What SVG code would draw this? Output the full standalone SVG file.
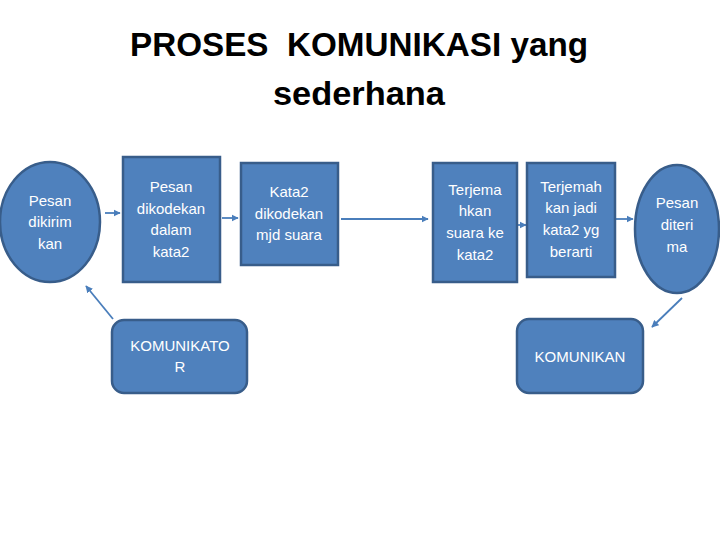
<svg xmlns="http://www.w3.org/2000/svg" width="720" height="540" viewBox="0 0 720 540">
<style>
.n{fill:#4F81BD;stroke:#385D8A;stroke-width:2.5}
.t{fill:#fff;font-family:"Liberation Sans",Arial,sans-serif;font-size:15px;text-anchor:middle}
.h{fill:#000;font-family:"Liberation Sans",Arial,sans-serif;font-weight:bold;font-size:33px;text-anchor:middle}
.c{stroke:#4A7EBB;stroke-width:1.8;fill:none;marker-end:url(#ah)}
</style>
<defs>
<marker id="ah" viewBox="0 0 10 10" refX="9" refY="5" markerWidth="4" markerHeight="4" orient="auto" markerUnits="strokeWidth">
<path d="M0,0 L10,5 L0,10 z" fill="#4A7EBB"/>
</marker>
</defs>
<rect width="720" height="540" fill="#fff"/>
<g id="title">
<text class="h" x="359" y="56" xml:space="preserve" textLength="458" lengthAdjust="spacingAndGlyphs">PROSES  KOMUNIKASI yang</text>
<text class="h" x="359" y="105" textLength="172" lengthAdjust="spacingAndGlyphs">sederhana</text>
</g>
<g id="connectors">
<line class="c" x1="105" y1="213" x2="120" y2="213"/>
<line class="c" x1="222" y1="218" x2="238" y2="218"/>
<line class="c" x1="341" y1="219" x2="428" y2="219"/>
<line class="c" x1="518" y1="225" x2="526" y2="225"/>
<line class="c" x1="616" y1="219" x2="633" y2="219"/>
<line class="c" x1="682" y1="298" x2="652" y2="327"/>
<line class="c" x1="113" y1="319" x2="86" y2="286"/>
</g>
<g id="pesan-dikirim">
<ellipse class="n" cx="50" cy="222" rx="50" ry="60"/>
<text class="t" x="50" y="206">Pesan</text>
<text class="t" x="50" y="227">dikirim</text>
<text class="t" x="50" y="249">kan</text>
</g>
<g id="pesan-dikodekan">
<rect class="n" x="123" y="157" width="97" height="125"/>
<text class="t" x="171" y="192">Pesan</text>
<text class="t" x="171" y="214">dikodekan</text>
<text class="t" x="171" y="235">dalam</text>
<text class="t" x="171" y="257">kata2</text>
</g>
<g id="kata2-dikodekan">
<rect class="n" x="241" y="163" width="97" height="102"/>
<text class="t" x="289" y="197">Kata2</text>
<text class="t" x="289" y="219">dikodekan</text>
<text class="t" x="289" y="240">mjd suara</text>
</g>
<g id="terjemahkan-suara">
<rect class="n" x="433" y="163" width="84" height="119"/>
<text class="t" x="475" y="195">Terjema</text>
<text class="t" x="475" y="216">hkan</text>
<text class="t" x="475" y="238">suara ke</text>
<text class="t" x="475" y="260">kata2</text>
</g>
<g id="terjemahkan-kata">
<rect class="n" x="527" y="163" width="88" height="114"/>
<text class="t" x="571" y="192">Terjemah</text>
<text class="t" x="571" y="213">kan jadi</text>
<text class="t" x="571" y="235">kata2 yg</text>
<text class="t" x="571" y="257">berarti</text>
</g>
<g id="pesan-diterima">
<ellipse class="n" cx="677" cy="229" rx="42" ry="64"/>
<text class="t" x="677" y="208">Pesan</text>
<text class="t" x="677" y="230">diteri</text>
<text class="t" x="677" y="252">ma</text>
</g>
<g id="komunikator">
<rect class="n" x="112" y="320" width="135" height="73" rx="12"/>
<text class="t" x="180" y="351">KOMUNIKATO</text>
<text class="t" x="180" y="372">R</text>
</g>
<g id="komunikan">
<rect class="n" x="517" y="319" width="126" height="74" rx="12"/>
<text class="t" x="580" y="362">KOMUNIKAN</text>
</g>
</svg>
